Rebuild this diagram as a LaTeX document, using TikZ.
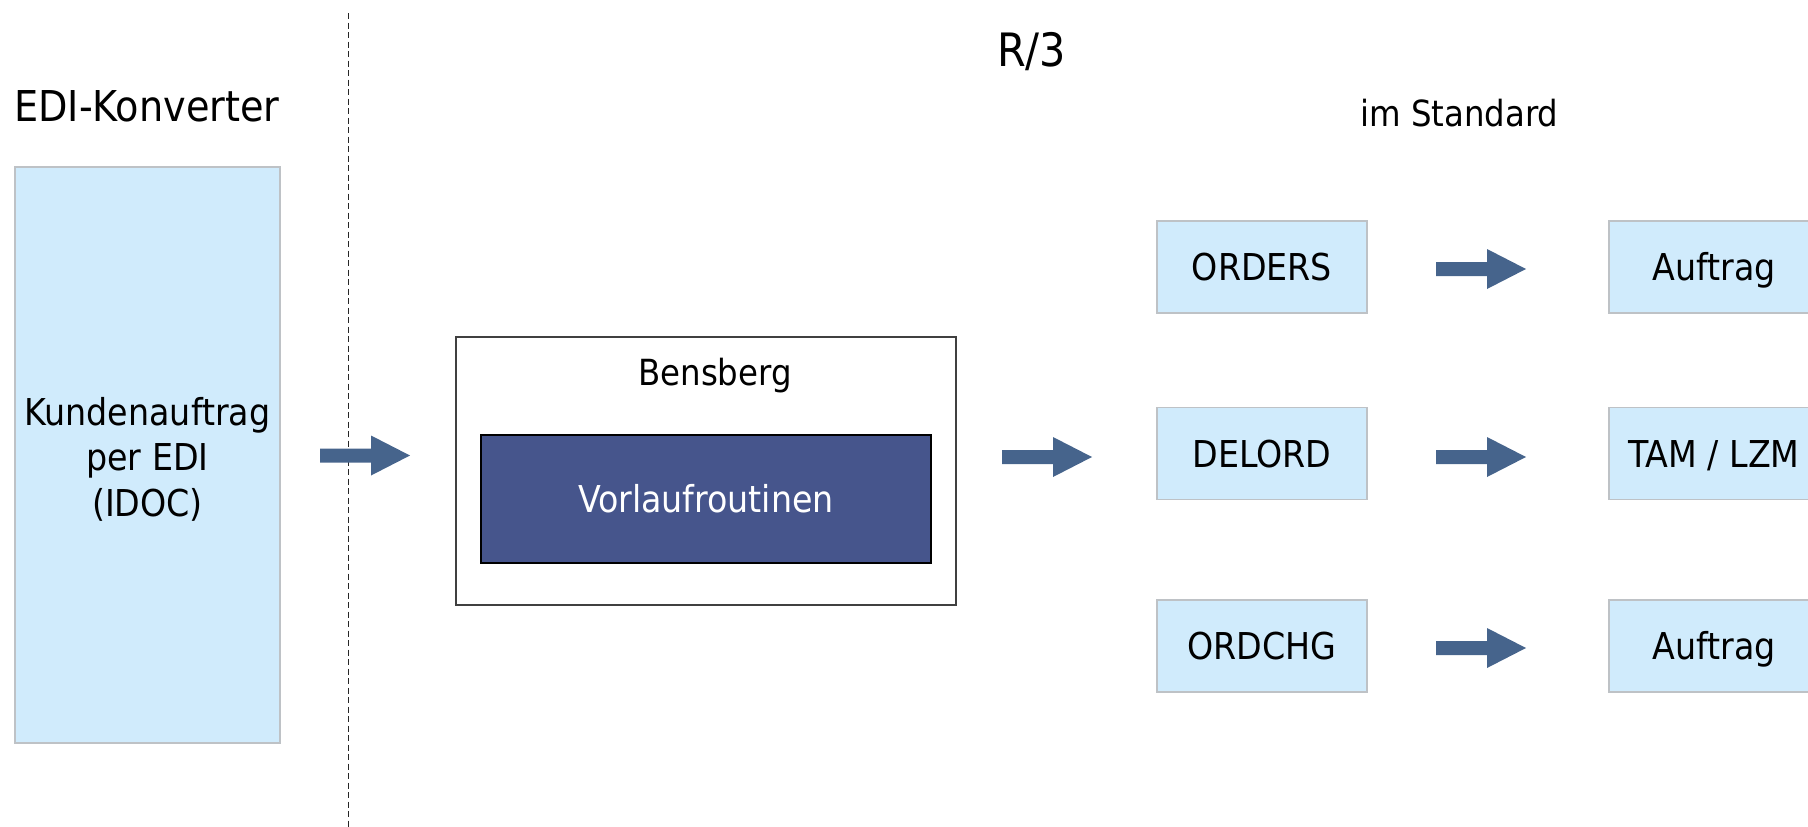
\documentclass[tikz,border=0pt]{standalone}
\usepackage{fontspec}
\setmainfont{DejaVu Sans Condensed}
\definecolor{boxblue}{RGB}{208,235,252}
\definecolor{boxedge}{RGB}{190,194,198}
\definecolor{routine}{RGB}{70,85,140}
\definecolor{arrowblue}{RGB}{70,100,140}
\tikzset{
  txt/.style={font=\fontsize{37}{44}\selectfont, inner sep=0pt},
  msgbox/.style={draw=boxedge, line width=1.5pt, fill=boxblue,
    minimum width=210pt, minimum height=92pt, inner sep=0pt, outer sep=0pt,
    font=\fontsize{37}{43}\selectfont, text height=27pt, text depth=0pt},
  separator/.style={draw=black!85, line width=1.5pt, dash pattern=on 6pt off 3.5pt},
  pics/blockarrow/.style={code={
    \fill[arrowblue] (0,-7) -- (51,-7) -- (51,-20) -- (90,0) -- (51,20) -- (51,7) -- (0,7) -- cycle;}}
}
\begin{document}
\begin{tikzpicture}[x=1pt,y=-1pt]
  \useasboundingbox (0,0) rectangle (1808,827);
  \clip (0,0) rectangle (1808,827);

  % system boundary between converter and R/3
  \coordinate (septop) at (348.5,13);
  \coordinate (sepbot) at (348.5,827);
  \draw[separator] (septop) -- (sepbot);

  % headings
  \node[font=\fontsize{42.5}{50}\selectfont, inner sep=0pt, anchor=base west] (edi) at (14,121) {EDI-Konverter};
  \node[font=\fontsize{46}{52}\selectfont, inner sep=0pt, anchor=base west] (r3) at (997,66) {R/3};
  \node[font=\fontsize{36}{42}\selectfont, inner sep=0pt, anchor=base west] (std) at (1360,126) {im Standard};

  % incoming order
  \node[draw=boxedge, fill=boxblue, line width=1.5pt, minimum width=265pt, minimum height=576pt,
        inner sep=0pt, align=center, font=\fontsize{37}{45.5}\selectfont] (kunde) at (147.5,455) {};
  \node[inner sep=0pt, align=center, font=\fontsize{37}{45.5}\selectfont] (kundetext) at (147.5,459)
        {Kundenauftrag\\per EDI\\(IDOC)};

  % Bensberg pre-processing
  \node[draw=black!75, line width=1.5pt, minimum width=500pt, minimum height=268pt, inner sep=0pt] (outer) at (706,471) {};
  \node[font=\fontsize{36}{42}\selectfont, inner sep=0pt, anchor=base] (bens) at (715,385) {Bensberg};
  \node[draw=black, fill=routine, line width=2pt, minimum width=450pt, minimum height=128pt, inner sep=0pt,
        text=white, font=\fontsize{37}{43}\selectfont, text height=27pt, text depth=0pt] (routine) at (706,499) {Vorlaufroutinen};

  % IDoc message types and targets
  \node[msgbox] (orders) at (1262,267) {ORDERS};
  \node[msgbox] (delord) at (1262,453.5) {DELORD};
  \node[msgbox] (ordchg) at (1262,646) {ORDCHG};
  \node[msgbox] (auftrag1) at (1714,267) {Auftrag};
  \node[msgbox] (tamlzm) at (1714,453.5) {TAM / LZM};
  \node[msgbox] (auftrag2) at (1714,646) {Auftrag};

  % block arrows
  \coordinate (a1) at (320,455.5);
  \coordinate (a2) at (1002,457);
  \coordinate (a3) at (1436,269);
  \coordinate (a4) at (1436,457);
  \coordinate (a5) at (1436,648);
  \pic at (a1) {blockarrow};
  \pic at (a2) {blockarrow};
  \pic at (a3) {blockarrow};
  \pic at (a4) {blockarrow};
  \pic at (a5) {blockarrow};
\end{tikzpicture}
\end{document}
